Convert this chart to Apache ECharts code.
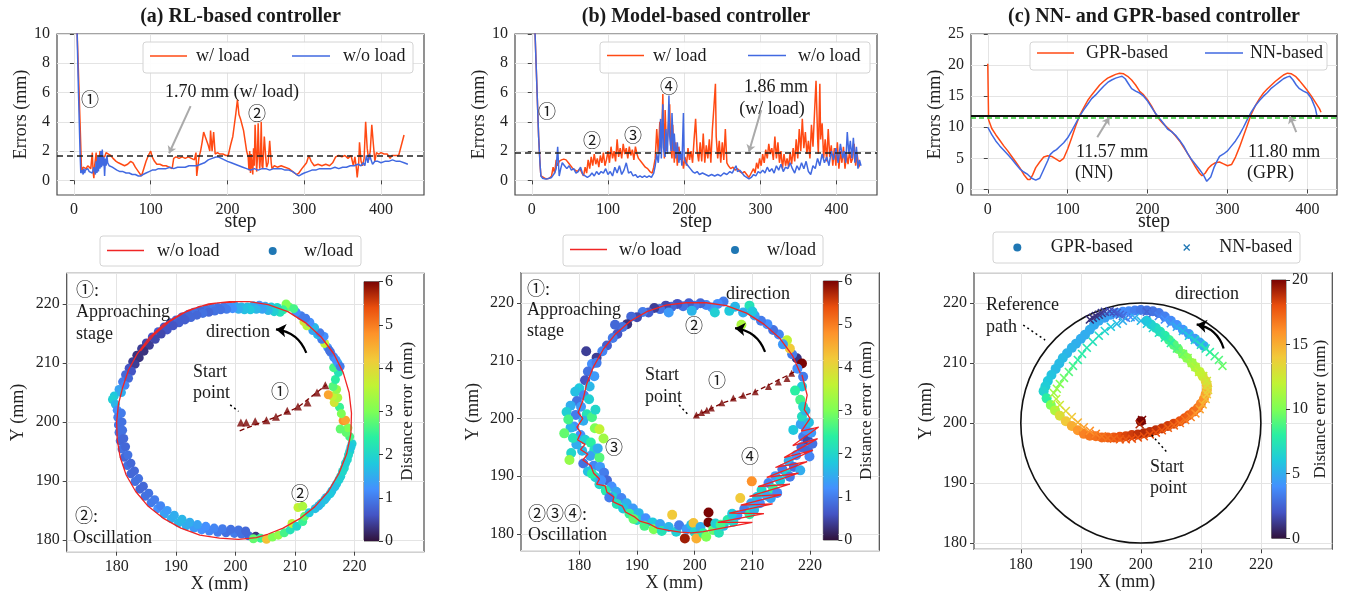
<!DOCTYPE html>
<html><head><meta charset="utf-8">
<script src="https://cdn.jsdelivr.net/npm/echarts@6/dist/echarts.min.js"></script>
<style>html,body{margin:0;padding:0;background:#fff}#c{width:1347px;height:591px}</style>
</head><body><div id="c"></div>
<script>
// ---------------- DATA ----------------
const STEP_TICKS = [0, 100, 200, 300, 400];
const ERR_TICKS_AB = [0, 2, 4, 6, 8, 10];
const ERR_TICKS_C = [0, 5, 10, 15, 20, 25];
const XY_TICKS = [180, 190, 200, 210, 220];
const CBAR_AB = 6, CBAR_C = 20;
const MEAN_A = 1.70, MEAN_B = 1.86, MEAN_C_GPR = 11.80, MEAN_C_NN = 11.57;

// (a) RL-based, errors vs step
const rlWithLoad = [[4,10.5],[8,4],[10,0.6],[12,0.9],[14,1.0],[16,0.8],[18,1.0],[20,0.9],[22,0.8],[24,1.9],[25,0.6],[26,0.15],[27,1.0],[29,1.9],[30,0.6],[32,1.0],[34,2.0],[36,1.7],[38,1.8],[40,1.6],[42,1.9],[45,1.8],[48,1.7],[51,1.5],[55,1.3],[58,1.2],[62,1.1],[66,1.0],[70,1.1],[74,1.3],[77,1.2],[80,0.9],[84,0.6],[88,0.3],[91,0.8],[94,1.3],[97,1.7],[100,2.0],[102,1.6],[105,1.3],[108,1.1],[112,1.1],[116,1.0],[120,1.0],[124,0.9],[128,0.8],[130,1.5],[133,1.6],[137,1.5],[141,1.6],[145,1.5],[149,1.6],[153,1.5],[157,1.4],[159,1.9],[160,0.3],[162,0.25],[163,1.6],[165,2.0],[167,2.6],[169,3.3],[171,3.0],[173,3.1],[175,2.4],[177,2.0],[178,3.4],[180,2.0],[182,3.3],[184,1.8],[187,1.9],[190,1.8],[194,1.8],[198,1.7],[201,1.7],[204,2.4],[207,3.0],[209,3.8],[211,4.6],[213,5.5],[215,4.5],[217,4.2],[219,3.8],[221,3.4],[223,2.7],[225,2.0],[227,1.6],[228,0.7],[229,2.0],[230,0.5],[231,1.8],[232,1.0],[233,0.4],[234,2.2],[235,1.0],[236,3.8],[237,2.4],[238,0.6],[239,1.5],[240,3.9],[241,2.0],[242,0.8],[243,1.5],[244,4.0],[245,1.0],[246,0.8],[248,3.0],[250,1.5],[251,0.9],[253,1.2],[255,2.7],[257,1.2],[258,0.8],[261,1.0],[265,0.9],[270,1.0],[275,0.9],[280,0.8],[285,0.6],[290,0.4],[293,0.5],[297,0.8],[300,1.0],[303,1.2],[306,1.7],[309,1.3],[313,1.0],[318,1.1],[323,1.0],[328,1.1],[333,1.0],[337,1.2],[341,1.6],[345,1.7],[349,1.6],[353,1.7],[357,1.5],[361,1.7],[364,1.0],[366,1.6],[368,0.8],[369,0.2],[371,1.2],[372,2.6],[374,1.3],[376,1.0],[378,1.5],[380,4.0],[382,2.2],[384,1.4],[386,2.0],[388,3.8],[390,2.5],[392,1.3],[394,1.9],[397,1.8],[400,1.9],[404,1.8],[408,1.8],[412,1.5],[414,1.7],[416,1.6],[418,1.7],[420,1.8],[423,1.7],[426,2.3],[430,3.1]];
const rlWithoutLoad = [[4,10.5],[6,6],[8,2],[9,0.5],[10,0.4],[11,0.7],[12,0.4],[13,0.8],[14,0.5],[15,0.7],[16,0.6],[18,0.8],[20,0.6],[22,0.7],[24,0.5],[26,0.9],[28,0.4],[29,1.3],[30,0.5],[31,1.6],[32,0.6],[33,1.7],[34,0.8],[35,2.0],[36,0.9],[37,2.1],[38,1.0],[39,1.6],[40,0.3],[41,1.5],[42,1.0],[43,1.7],[44,1.2],[46,1.0],[48,1.0],[50,0.9],[53,0.8],[56,0.7],[60,0.6],[64,0.6],[68,0.5],[72,0.5],[76,0.4],[80,0.4],[84,0.3],[87,0.3],[90,0.4],[94,0.5],[98,0.6],[102,0.7],[106,0.7],[110,0.8],[115,0.8],[120,0.8],[125,0.9],[130,0.8],[135,0.9],[140,0.9],[145,0.9],[150,1.0],[155,1.0],[160,1.0],[165,1.1],[170,1.2],[175,1.4],[180,1.5],[185,1.6],[188,1.6],[192,1.5],[196,1.4],[200,1.3],[205,1.2],[210,1.1],[215,1.0],[220,0.9],[225,0.8],[230,0.7],[235,0.8],[240,0.7],[245,0.8],[250,0.8],[255,0.7],[260,0.8],[265,0.8],[270,0.8],[275,0.7],[280,0.7],[285,0.6],[290,0.4],[293,0.3],[296,0.4],[300,0.5],[305,0.6],[310,0.7],[315,0.7],[320,0.8],[325,0.8],[330,0.8],[335,0.8],[340,0.9],[345,0.8],[350,0.9],[355,0.9],[360,1.0],[365,1.0],[370,1.1],[374,1.0],[377,1.2],[379,1.0],[381,1.7],[383,1.2],[385,1.8],[387,1.4],[389,1.1],[392,1.3],[396,1.3],[400,1.2],[405,1.3],[410,1.3],[415,1.4],[420,1.3],[425,1.3],[430,1.2],[435,1.1]];

// (b) Model-based, errors vs step
const mbWithLoad = [[4,10.5],[7,6],[9,3],[11,1],[12,0.3],[14,0.2],[17,0.15],[20,0.1],[23,0.15],[26,0.3],[28,0.9],[30,0.5],[32,1.4],[34,1.0],[36,1.3],[39,1.4],[42,1.45],[45,1.4],[48,1.2],[51,1.0],[54,0.8],[57,0.7],[60,0.6],[63,0.8],[66,0.5],[68,0.3],[70,0.9],[72,0.5],[74,1.4],[76,0.8],[78,1.6],[80,1.0],[82,1.8],[84,1.1],[86,1.5],[88,0.9],[90,1.7],[92,1.2],[94,1.9],[96,1.0],[98,1.4],[100,2.0],[102,1.2],[104,2.3],[106,1.5],[108,2.0],[110,1.3],[112,2.8],[114,1.6],[116,2.2],[118,1.5],[120,2.5],[122,1.8],[124,2.2],[126,1.5],[128,2.3],[130,1.7],[132,2.1],[134,1.4],[136,2.3],[138,1.8],[140,1.5],[143,1.3],[146,1.1],[149,0.9],[152,0.8],[155,0.6],[158,0.5],[160,0.9],[162,1.5],[164,3.5],[166,1.8],[168,4.0],[170,2.0],[172,5.9],[173,3.0],[174,1.5],[175,4.8],[177,2.0],[179,3.5],[181,5.2],[182,2.5],[184,1.5],[185,3.8],[187,1.2],[189,2.6],[191,1.0],[193,2.3],[195,1.4],[197,1.8],[199,0.8],[201,1.6],[203,1.0],[205,2.2],[207,1.4],[209,2.0],[211,1.2],[213,2.8],[215,4.2],[217,2.0],[219,1.3],[221,2.6],[223,1.3],[225,3.2],[227,1.2],[229,2.4],[231,1.5],[233,2.8],[235,1.2],[237,3.5],[239,5.0],[241,6.6],[242,3.0],[244,1.5],[246,2.7],[248,1.2],[250,2.6],[252,1.4],[254,3.5],[256,1.2],[258,1.0],[261,0.8],[264,0.9],[267,0.7],[270,0.8],[273,0.6],[276,0.5],[279,0.6],[282,0.4],[285,0.2],[287,0.4],[289,0.3],[291,0.8],[293,0.5],[295,1.2],[297,0.8],[299,1.5],[301,1.0],[303,1.8],[305,1.2],[307,2.1],[309,1.5],[311,2.5],[313,1.8],[315,2.2],[317,1.4],[319,3.0],[321,1.5],[323,2.6],[325,1.2],[327,2.0],[329,0.8],[331,1.8],[333,1.0],[335,1.5],[337,0.9],[339,1.9],[341,1.1],[343,2.2],[345,1.3],[347,2.8],[349,1.5],[351,3.5],[353,2.0],[355,4.2],[357,2.2],[359,3.3],[361,1.8],[363,2.7],[365,1.5],[367,3.8],[369,2.3],[371,4.6],[373,6.8],[375,3.0],[376,1.8],[378,6.6],[379,2.8],[381,3.9],[383,1.5],[385,2.8],[387,1.3],[389,3.5],[391,1.6],[393,2.4],[395,1.0],[397,2.2],[399,1.0],[401,2.6],[403,0.8],[405,2.0],[407,1.2],[409,2.3],[411,0.8],[413,1.8],[415,1.1],[417,2.0],[419,1.2],[421,1.5],[423,2.5],[425,1.0],[427,1.8],[429,0.9],[431,1.2]];
const mbWithoutLoad = [[4,10.5],[7,6],[9,3],[11,1],[12,0.3],[14,0.15],[17,0.1],[20,0.1],[23,0.15],[26,0.2],[28,0.3],[30,0.5],[32,0.8],[34,2.3],[35,1.2],[36,0.3],[38,0.8],[40,1.2],[43,1.0],[46,0.8],[49,1.0],[52,0.7],[55,0.8],[58,0.5],[61,0.6],[64,0.9],[67,0.4],[70,0.3],[73,0.2],[76,0.3],[79,0.5],[82,0.3],[85,0.6],[88,0.4],[91,0.6],[94,0.5],[97,0.8],[100,0.4],[103,0.6],[106,0.3],[109,0.9],[112,0.5],[115,1.0],[118,0.4],[121,0.7],[124,1.2],[127,0.5],[130,0.6],[133,0.3],[136,0.4],[139,0.2],[142,0.3],[145,0.2],[148,0.3],[151,0.2],[154,0.3],[157,0.2],[160,0.5],[162,1.0],[164,1.8],[166,1.2],[168,2.5],[169,4.2],[170,1.5],[172,5.2],[173,2.2],[175,1.6],[176,3.5],[178,1.8],[180,5.8],[181,3.0],[183,2.0],[184,4.6],[186,2.0],[187,3.2],[189,1.5],[191,2.6],[193,1.2],[195,2.0],[197,1.0],[199,4.6],[200,1.5],[202,1.2],[205,1.0],[208,0.8],[211,0.6],[214,0.5],[217,0.6],[220,0.4],[224,0.5],[228,0.4],[232,0.3],[236,0.4],[240,0.3],[244,0.4],[248,0.3],[252,0.5],[256,0.4],[260,0.6],[263,0.5],[266,0.8],[268,1.0],[270,0.6],[273,0.7],[276,0.5],[279,0.3],[282,0.2],[285,0.1],[288,0.2],[291,0.4],[294,0.3],[297,0.6],[300,0.5],[303,0.7],[306,0.5],[309,0.9],[312,0.6],[315,0.8],[318,0.5],[321,1.0],[324,0.7],[327,1.1],[330,0.6],[333,0.9],[336,0.8],[339,1.2],[342,0.8],[345,0.5],[348,1.0],[351,0.7],[354,1.2],[357,0.8],[360,1.3],[363,0.6],[366,0.4],[369,1.0],[372,0.8],[375,1.5],[378,1.0],[381,1.8],[384,1.2],[387,1.6],[390,1.0],[393,2.0],[396,1.4],[399,2.2],[402,1.2],[405,2.5],[408,1.5],[410,2.0],[412,1.2],[414,3.3],[416,1.8],[418,2.7],[420,1.5],[422,2.9],[424,1.2],[426,2.3],[428,0.8],[430,1.4],[432,1.0]];

// (c) NN / GPR, errors vs step
const gprErr = [[0,20.2],[1,11.2],[5,9.8],[10,8.8],[15,7.9],[20,7.0],[25,6.2],[30,5.3],[35,4.4],[40,3.5],[45,2.4],[50,1.6],[53,1.6],[56,2.3],[60,3.5],[65,4.4],[70,5.2],[75,5.4],[80,5.3],[85,4.9],[90,4.5],[95,5.0],[100,6.5],[105,8.3],[110,10.2],[115,11.9],[120,13.1],[125,14.3],[130,15.2],[135,16.0],[140,16.8],[145,17.4],[150,17.9],[155,18.2],[160,18.5],[165,18.7],[170,18.6],[175,18.2],[180,17.6],[185,16.8],[190,15.8],[195,15.2],[200,14.4],[205,13.4],[210,12.2],[215,11.2],[220,10.5],[225,9.9],[230,9.3],[235,8.6],[240,7.8],[245,6.8],[250,5.8],[255,4.7],[260,3.6],[265,2.6],[268,2.2],[272,2.6],[276,3.4],[280,3.9],[285,4.3],[290,4.4],[295,4.1],[300,3.8],[305,4.0],[310,5.2],[315,6.8],[320,8.6],[325,10.4],[330,12.2],[335,13.5],[340,14.6],[345,15.5],[350,16.2],[355,16.8],[360,17.4],[365,17.9],[370,18.4],[375,18.7],[380,18.6],[385,18.2],[390,17.5],[395,16.7],[400,15.9],[405,15.0],[410,14.0],[415,13.0],[417,12.4]];
const nnErr = [[0,10.0],[5,8.8],[10,7.8],[15,7.0],[20,6.3],[25,5.6],[30,4.9],[35,4.1],[40,3.3],[45,2.8],[50,2.4],[55,1.8],[60,1.5],[62,1.3],[65,1.8],[70,3.2],[75,4.6],[78,5.6],[82,6.1],[86,6.4],[90,6.9],[95,7.5],[100,8.3],[105,9.4],[110,10.6],[115,11.8],[120,12.8],[125,13.7],[130,14.6],[135,15.2],[140,15.9],[145,16.6],[150,17.2],[155,17.6],[160,17.9],[165,18.1],[168,18.2],[172,17.8],[176,17.0],[180,16.2],[185,15.8],[190,15.5],[195,15.0],[200,14.2],[205,13.2],[210,12.2],[215,11.4],[220,10.6],[225,9.7],[230,9.3],[235,8.7],[240,7.9],[245,7.0],[250,5.8],[255,4.8],[260,4.0],[265,3.2],[270,2.3],[274,1.3],[276,1.0],[279,2.0],[283,3.5],[287,4.6],[290,5.3],[295,5.7],[300,6.2],[305,7.0],[310,7.8],[315,8.8],[320,10.0],[325,11.3],[330,12.5],[335,13.5],[340,14.3],[345,15.0],[350,15.6],[355,16.3],[360,16.8],[365,17.3],[370,17.8],[375,18.1],[378,18.2],[382,17.6],[386,16.8],[390,16.2],[395,15.8],[400,15.5],[405,14.6],[410,13.0],[412,11.8]];

// (a) trajectory: [x, y] path w/o load, [x, y, error] points w/ load
const rlPathNoLoad = [[200,220.3],[197,220.2],[194,219.6],[191,218.4],[188,216.6],[185.5,214.3],[183.5,211.6],[182,208.8],[181,205.8],[180.3,203],[180,200],[180.1,197],[180.6,194],[181.6,191],[183.2,188.2],[185.2,185.8],[187.8,183.7],[190.8,182],[194,180.8],[197.3,180.3],[200.5,180.1],[203.5,180.4],[205.5,181],[208,182],[210.8,183.6],[213.3,185.6],[215.6,188.2],[217.4,191.3],[218.7,194.6],[219.4,198],[219.5,201.5],[219.1,205],[218.1,208.4],[216.5,211.6],[214.4,214.4],[211.8,216.8],[208.8,218.7],[205.5,219.9],[202.3,220.4],[199,220.4],[195.5,220],[192,218.9],[189,217.1],[186.3,214.8],[184,212]];
const rlPointsLoad = [[209,219.5,2.8],[208.5,220,3.0],[208,219,2.5],[207,219.4,2.0],[206,219.5,1.8],[205,219.6,1.5],[204,219.8,1.2],[203,219.7,1.5],[202,219.5,1.7],[201,219.5,1.6],[200,219.6,1.4],[199,219.6,1.2],[198,219.5,1.0],[197,219.4,0.9],[196,219.3,1.0],[195,219.1,0.9],[194,218.9,0.8],[193,218.6,0.9],[192,218.2,0.8],[191,217.8,0.7],[190,217.3,0.8],[189,216.8,0.7],[188,216.1,0.6],[187,215.3,0.7],[186,214.4,0.6],[185,213.4,0.5],[184.2,212.4,0.4],[183.4,211.3,0.3],[182.7,210.2,0.4],[182.1,209.1,0.6],[181.5,208,0.8],[181,206.8,1.0],[180.4,205.5,1.4],[179.6,204.4,1.8],[179.3,203.8,1.9],[179.8,203,1.6],[180.1,202,1.2],[180.2,200.8,1.0],[180.3,199.5,0.9],[180.4,198.2,0.9],[180.6,196.8,0.8],[180.9,195.4,0.9],[181.3,194,0.8],[181.8,192.6,0.9],[182.4,191.2,0.8],[183.1,189.9,0.9],[183.9,188.6,0.8],[184.8,187.4,0.9],[185.8,186.3,1.0],[186.9,185.3,1.2],[188,184.4,1.4],[189.2,183.6,1.5],[190.4,182.9,1.6],[191.7,182.4,1.5],[193,182,1.3],[194.3,181.7,1.2],[195.6,181.5,1.1],[197,181.3,1.0],[198.4,181.2,0.9],[199.8,181.1,1.0],[201,181,0.9],[202.2,180.7,0.8],[203.4,180.6,0.3],[204.2,180.3,2.5],[203,180.2,2.8],[205.2,180.1,4.3],[206.2,180.5,3.0],[207.2,180.8,3.2],[208.2,181.2,2.6],[209.2,181.7,2.2],[209.5,182.8,3.6],[210.3,182.3,2.0],[211.3,183.1,2.5],[211.6,184,2.8],[210.5,185.5,3.6],[211.3,185.7,3.4],[212.4,184.6,1.8],[213.4,185.3,1.7],[214.4,186.2,1.8],[215.3,187.2,1.6],[216.2,188.3,1.7],[217,189.5,1.8],[217.7,190.8,1.9],[218.3,192.2,2.0],[218.8,193.6,2.0],[219.2,195,1.9],[219.6,196.3,1.9],[219.2,197.5,2.6],[218.6,198.2,2.8],[218.9,199,3.0],[218.1,200.2,4.8],[218.5,200.3,4.6],[217.5,202.5,2.5],[216.6,203.3,3.8],[217.2,204.1,3.4],[216.3,204.4,3.6],[215.6,204.6,4.6],[217,205.5,3.2],[216.4,206,2.7],[216.8,207.2,2.4],[217.3,208.4,2.2],[216.5,209.2,2.6],[217.2,210,1.5],[216.5,211,1.1],[216,211.8,1.0],[215.5,212.6,1.2],[215,213.3,3.6],[214.5,214,1.0],[213.8,214.8,1.6],[213,215.5,1.4],[212,216.3,3.5],[211.5,217,3.8],[211,218,1.0],[210.2,218.6,1.2],
  [207.5,218.6,2.2],[206.5,218.7,1.9],[205.5,218.9,1.6],[204.5,219.1,1.4],[203.5,219.1,1.6],[202.5,219,1.8],[201.5,219,1.7],[200.5,219.1,1.5],[199.5,219.2,1.2],[198.5,219.1,1.0],[197.5,219,0.9],[196.5,218.8,0.9],[195.5,218.6,0.8],[194.5,218.4,0.9],[193.5,218.1,0.8],[192.5,217.7,0.8],[191.5,217.3,0.7],[190.5,216.8,0.7],[189.5,216.3,0.6],[188.5,215.6,0.6],[187.5,214.9,0.5],[186.5,214,0.5],[185.5,213,0.4],[184.6,212,0.3],[183.8,210.9,0.3],[183.1,209.8,0.4],[182.5,208.6,0.6],[182,207.4,0.8],[181.4,206.2,1.1],[180.8,205,1.5],[180.8,201.5,1.0],[180.9,200,0.9],[181,198.6,0.9],[181.2,197.2,0.8],[181.5,195.8,0.8],[181.9,194.4,0.9],[182.4,193,0.8],[183,191.7,0.8],[183.7,190.4,0.9],[184.5,189.1,0.8],[185.4,187.9,0.9],[186.4,186.8,1.0],[187.4,185.8,1.1],[188.5,185,1.3],[189.7,184.2,1.5],[191,183.5,1.6],[192.3,183,1.5],[193.6,182.6,1.4],[195,182.3,1.2],[196.4,182,1.1],[197.8,181.9,1.0],[199.2,181.8,0.9],[200.5,181.7,0.9],[201.7,181.5,0.8],[214,185.8,1.6],[215,186.8,1.7],[215.9,187.8,1.8],[216.7,189,1.7],[217.4,190.2,1.9],[218,191.6,2.0],[218.5,193,1.9],[219,194.4,2.0],[219.4,195.7,1.8],[217.6,198.8,2.8],[217.8,201.4,3.0],[217.6,209.4,1.0],[216.9,210.5,1.2],[215.8,212.1,0.9],[214.9,214.5,1.2],[214.2,215.1,1.0],[213.3,216,1.6],[212.5,216.9,1.2],[211.8,217.6,1.0],[209.8,219.2,2.6]];
const rlApproach = [[200.9,199.9],[201.8,199.9],[203.3,200.1],[205.2,200.3],[206.8,200.9],[208.7,201.9],[210.5,202.6],[212.1,203.3],[213.7,205],[215.1,206.2]];
const rlApproachLine = [[200.7,198.5],[203.5,199.6],[207,200.9],[210.5,202.5],[215.3,206.3]];

// (b) trajectory
const mbPathNoLoad = [[218.3,207.8],[217,210.8],[214.8,213.8],[212,216.3],[209,218.2],[205.5,219.5],[202,220],[198.5,220],[195,219.6],[191.8,218.5],[188.8,216.8],[186.3,214.6],[184.2,212],[182.5,209],[181.3,206],[180.6,203],[179.8,201],[180.6,200],[179.6,198.5],[180.3,197.5],[179.7,196.3],[181,195.5],[180.2,194.6],[181.5,193.8],[180.6,192.8],[182,191.8],[182.5,190.5],[183.5,189.5],[183,188.6],[184.5,188.3],[184.8,187.2],[186,186.4],[185.8,185.6],[187.5,184.8],[188,183.8],[189.5,183],[190.5,182.2],[192,181.8],[193.5,181],[195.5,180.6],[197.5,180.3],[199.5,180.2],[201.5,180.4],[210,182],[204,182],[212,183.5],[206,183.6],[213.5,185.2],[208,185],[215,186.8],[209.5,186.5],[216.5,188.6],[211,188.2],[218,190.5],[212.5,189.8],[219.5,192.5],[214,191.5],[220.5,194.5],[215.5,193.2],[221.3,196.5],[217,195.3],[221.5,198.5],[218.5,197.8],[220,200],[219,201.5],[219.5,204],[218.6,207.5]];
const mbPointsLoad = [[207,219.3,1.6],[206,218.6,1.8],[205,220.2,1.0],[204,219.8,1.2],[203,219.2,1.3],[202,219.6,1.1],[201,219.9,0.8],[200,219.5,1.0],[199,219.9,0.7],[198,219.4,0.9],[197,219.8,0.6],[196,219.3,0.8],[195,219.5,0.5],[194,218.9,0.9],[193,219.1,0.4],[192,218.3,0.7],[191,218.4,1.0],[190,217.5,0.5],[189,217.6,0.8],[188.3,216.3,0.3],[187.5,215.8,0.9],[186.6,214.6,0.6],[185.8,213.9,1.0],[184.8,212.6,0.7],[184,211.6,1.1],[183,210.5,0.4],[182.2,209.4,1.2],[183,209.6,1.0],[181.5,208.1,0.9],[182.6,207.3,1.3],[181,206.6,0.6],[181.8,205.5,1.6],[180,205.2,1.8],[179.3,204.6,1.7],[180.8,204,1.1],[181.7,203.3,1.9],[179.6,203,0.9],[178.5,202.2,1.5],[180.3,202,1.3],[177.8,201.1,1.9],[179.4,200.6,1.0],[181.3,200.7,2.2],[180.7,199.6,1.5],[182.2,200.2,2.6],[179.1,198.6,1.2],[182.7,198.3,3.0],[183.5,198.1,3.6],[178.5,198.4,1.6],[177.4,197.4,2.8],[180.2,197.1,1.2],[181,196.3,1.9],[182,195.8,2.4],[179.5,195.5,1.5],[180.5,194.4,1.6],[182.6,194.5,2.1],[178.6,194,2.0],[181.9,193.5,1.4],[183.5,193.2,2.7],[178.3,192.8,3.2],[180.7,192.2,0.9],[182.5,191.8,1.1],[183.6,191.6,1.3],[181.5,190.8,1.7],[184.3,190.6,1.0],[182.8,189.8,1.9],[184.8,189.3,0.8],[183.5,188.6,2.0],[185.6,188.2,1.2],[184.6,187.5,2.3],[186.4,187.3,1.4],[185.8,186.4,1.9],[187.3,186.2,1.1],[186.5,185.2,2.2],[188.2,185.3,1.5],[187.6,184.4,1.8],[189.3,184.4,1.3],[188.7,183.5,2.5],[190.3,183.6,1.6],[190,182.4,2.0],[191.5,182.7,1.2],[191.3,181.4,2.6],[192.7,182,1.8],[192.9,180.8,3.0],[194,181.7,1.4],[194.3,180.5,2.2],[195.5,181.2,1.6],[196.1,183.3,4.2],[196.8,180.4,1.9],[197.3,181.5,1.0],[198.3,179.2,5.8],[198.6,180.8,1.3],[199.4,181.6,1.7],[199.8,181.9,4.3],[200,180.3,2.0],[200.3,179.2,4.5],[201,181.2,1.5],[201.5,180.1,2.4],[202,179.5,3.0],[202.4,182,6.0],[202.4,183.7,6.0],[203.2,180.7,2.8],[203.6,181.8,1.9],[204.2,180.2,2.2],[205,181.4,1.6],[205.7,182.4,2.3],[206.7,182.1,2.0],[207.4,183.2,1.2],[207.9,186.2,4.2],[208.6,184.3,1.0],[209.5,183.4,2.4],[209.9,189.1,4.8],[209.8,185.3,1.4],[210.8,186.4,1.7],[211.3,185.3,1.2],[211.6,187.6,2.0],[212.5,186.6,1.5],[212.8,188.8,1.1],[213.6,187.8,2.5],[214,190,1.3],[214.8,189.2,1.8],[215.2,191.2,1.0],[216,190.4,1.9],[216.5,189.9,1.0],[216.3,192.6,1.5],[217.2,191.6,0.9],[217.6,193.6,1.2],[218.3,191,1.5],[218.5,195,0.8],[219.6,194.5,0.8],[218.8,196.8,1.0],[219.6,196.2,0.5],[217.1,198,1.8],[218.4,199,1.4],[219.3,198,1.2],[218.6,200.3,2.1],[219.2,201.3,1.6],[218.3,203.2,2.6],[218.8,202,2.0],[218.6,205.5,1.8],[217.4,204.8,2.4],[218.8,207.2,1.0],[217.7,210.4,0.3],[218.6,209.5,6.0],[217.8,208.6,1.2],[216.9,211.1,1.0],[216.5,212.1,4.2],[216,213.5,3.6],[215.3,212.8,1.3],[214.6,214.5,1.1],[213.6,215.3,0.9],[212.6,216.3,1.2],[211.5,216.9,1.0],[210.4,217.8,1.4],[209.5,219.5,2.2],[208.4,218.3,1.5],[208.1,216.2,3.4],[210,218.5,1.8],
  [219.9,193.4,1.1],[220.4,195.6,0.9],[220.2,197.5,1.3],[219.8,199.3,1.7],[213.2,186.2,1.4],[214.3,187.1,1.1],[210.3,184.2,1.6],[206.5,183.5,1.8],[204.5,181.6,2.6],[189.4,182.6,2.8],[185.2,186.3,1.0],[183.8,189.3,1.2],[182.2,190.4,2.4],[183.2,194.8,1.5],[184.2,196.5,3.3],[178.9,196.6,2.2],[178.1,199.8,2.6],[182.8,201.5,2.0],[181.2,211.6,0.4],[186.2,216.2,0.8],[195.5,218.3,1.3],[199.5,218.6,1.6],[203.5,218.3,1.9]];
const mbApproach = [[200.3,200.6],[201.2,201],[202.1,201.4],[202.9,201.8],[204.7,202.7],[206.7,203.5],[208.4,204],[210.5,204.6],[212.8,205.5],[214.5,206.3],[216,206.9],[216.8,207.8]];
const mbApproachLine = [[200,200.3],[204.7,202.6],[210.5,204.6],[217.6,208.2]];

// (c) trajectories [x, y, error]
const refCircle = [[200, 200, 20]];
const gprPoints = [[200,200.3,20],[197,218.5,4],[198,218.6,3.8],[199,218.7,3.5],[200,218.8,3.2],[201,218.7,3],[202,218.6,3.1],[203,218.3,3.2],[204,217.7,3.5],[205,217,3.8],[206,216.3,4],[207,215.5,4.2],[208,214.8,4.3],[209,214,4.5],[209.8,213.4,4.8],[210.5,212.8,5],[196,218.3,4.2],[195,218,4.5],[194,217.5,4.6],[193,217,4.8],[192.2,216.3,4.9],[191.5,215.5,5],[190.7,214.7,5],[190,214,5],[189.2,213.2,5.1],[188.5,212.5,5.2],[187.7,211.6,5.3],[187,210.8,5.5],[186.4,209.9,5.5],[185.8,209,5.5],[185.1,208,5.8],[184.5,207,6],[184.1,206.1,6.2],[183.8,205.3,6.5],[184.3,204.1,8],[185,203,10],[185.7,202.1,11.5],[186.5,201.2,13],[187.5,200.3,14],[188.5,199.5,15],[189.5,198.8,15.8],[190.5,198.2,16.5],[191.5,197.9,16.8],[192.5,197.8,17],[193.5,197.6,17.3],[194.5,197.6,17.5],[195.5,197.6,17.8],[196.5,197.7,18],[197.5,197.8,18.3],[198.5,198,18.5],[199.5,198.1,18.8],[200.5,198.3,19],[201.5,198.5,18.9],[202.5,198.8,18.8],[203.5,199.1,18.6],[204.5,199.5,18.5],[205.5,199.9,18.3],[206.5,200.3,18],[207.3,200.8,17.8],[208,201.3,17.5],[208.8,201.9,17.2],[209.5,202.5,17],[210,203.2,16.5],[210.5,204,16],[210.8,204.8,15.5],[211,205.5,15],[211,206.3,14.3],[210.8,207,13.5],[210.3,207.8,12.8],[209.8,208.5,12],[209.1,209.3,11.5],[208.5,210,11],[207.7,210.8,10.5],[207,211.5,10],[206.2,212.3,9.5],[205.5,213,9],[204.7,213.8,8.5],[204,214.5,8],[203.2,215.2,7.5],[202.5,215.8,7],[201.7,216.4,6.5],[201,217,6]];
const nnPoints = [[200.2,200.5,20],[199.8,199.8,19],[191.5,217.2,0.8],[192,217.5,1],[192.5,217.8,1],[193,218,1],[193.5,218.3,1.2],[194,218.5,1.5],[194.8,218.6,1.8],[195.5,218.5,2],[196,218.3,2.2],[196.5,218,2.5],[197,217.8,2.8],[197.5,217.5,3],[198.3,217.6,4],[199,217.5,5],[200,217,5.5],[201,216.5,6],[202,215.8,6.5],[203,215,7],[204,214.2,7.5],[205,213.3,8],[206,212.4,8.8],[207,211.5,9.5],[207.8,210.8,10.2],[208.5,210,11],[209.1,209.3,11.5],[209.7,208.5,12],[201,218.5,2.5],[202,218.3,3],[203,217.8,3.5],[204,217.2,4],[205,216.6,4.5],[206,216,5],[207,215.3,5.5],[208,214.5,6],[209,213.8,6.5],[210,213,7],[210.8,212.4,7.5],[211.5,211.8,8],[212.3,211.1,8.5],[213,210.5,9],[213.6,209.5,9.5],[197,217,5],[196,216.5,5.5],[195,216,6],[194,215.3,6.5],[193,214.5,7],[192,213.5,7.2],[191,212.5,7.5],[190.2,211.5,7.8],[189.5,210.5,8],[188.7,209.5,8.5],[188,208.5,9],[187.2,207.5,9.5],[186.5,206.5,10],[186,205.7,10.5],[185.5,205,11],[185.9,204,11.8],[186.5,203,12.5],[187.5,202,13.2],[188.5,201,14],[189.5,200.1,14.8],[190.5,199.3,15.5],[191.5,198.7,16],[192.5,198.2,16.5],[193.5,197.8,16.8],[194.5,197.5,17],[195.5,197.4,17.3],[196.5,197.3,17.5],[197.5,197.3,17.8],[198.5,197.4,18],[199.5,197.6,18],[200.5,197.8,18],[201.5,198.1,18],[202.5,198.4,18],[203.5,198.8,17.8],[204.5,199.2,17.5],[205.5,199.6,17.3],[206.5,200,17],[207.4,200.5,16.8],[208.3,201,16.5],[209.1,201.6,16],[209.8,202.3,15.5],[210.3,203.1,15],[210.8,204,14.5],[211,204.8,14],[211.2,205.5,13.5],[211.1,206.3,13],[211,207,12.5],[210.4,207.8,12.2]];

// ---------------- STYLE ----------------
const FONT = '"Liberation Serif", "DejaVu Serif", "Noto Sans CJK JP", serif';
const ORANGE = '#ff4a14', BLUE = '#4169e1', RED = '#f02525', MPLBLUE = '#1f77b4', DARKRED = '#7a0403';
const TURBO = ['#30123b','#4454c4','#4490fe','#1fc9dd','#29efa2','#7eff55','#c1f334','#f1ca3a','#fe922a','#ea4f0d','#7a0403'];
const GRIDC = '#e4e4e4', FRAMEC = '#4a4a4a';

const chart = echarts.init(document.getElementById('c'));
const grid = [], xAxis = [], yAxis = [], series = [], visualMap = [], graphic = [];

function addGrid(g) { grid.push(Object.assign({ show: true, borderColor: FRAMEC, borderWidth: 1.2, backgroundColor: 'transparent', containLabel: false, outerBoundsMode: 'none' }, g)); return grid.length - 1; }
const lab = (extra) => Object.assign({ fontFamily: FONT, fontSize: 16, color: '#222' }, extra || {});
function valAxis(gi, min, max, ticks, name, nameGap, isY, extra) {
  const a = {
    gridIndex: gi, type: 'value', min, max, splitNumber: 5,
    axisLine: { show: false },
    axisTick: { show: true, length: 4, lineStyle: { color: '#444' }, customValues: ticks },
    axisLabel: lab({ showMinLabel: true, showMaxLabel: true, customValues: ticks, margin: 7 }),
    splitLine: { show: true, lineStyle: { color: GRIDC, width: 1 } },
    name, nameLocation: 'middle', nameGap,
    nameTextStyle: { fontFamily: FONT, fontSize: isY ? 18 : 20, color: '#222' }
  };
  if (isY) a.nameRotate = 90;
  return Object.assign(a, extra || {});
}

// ---- top panels ----
const topCfg = [
  { left: 57, width: 367, xmin: -22, xmax: 456, ymin: -1, ymax: 10, yt: ERR_TICKS_AB },
  { left: 515, width: 362, xmin: -22, xmax: 453, ymin: -1, ymax: 10, yt: ERR_TICKS_AB },
  { left: 971, width: 366, xmin: -21, xmax: 437, ymin: -0.9, ymax: 25, yt: ERR_TICKS_C }
];
const topIdx = topCfg.map(c => {
  const gi = addGrid({ left: c.left, top: 34, width: c.width, height: 161 });
  xAxis.push(valAxis(gi, c.xmin, c.xmax, STEP_TICKS, 'step', 17, false, { nameMoveOverlap: false }));
  yAxis.push(valAxis(gi, c.ymin, c.ymax, c.yt, 'Errors (mm)', 27, true));
  return gi;
});
function lineS(gi, data, color, extra) {
  return Object.assign({ type: 'line', xAxisIndex: gi, yAxisIndex: gi, data, showSymbol: false, symbol: 'none', lineStyle: { color, width: 1.5 }, itemStyle: { color }, silent: true, clip: true }, extra || {});
}
function meanLine(value, color, type, width) {
  return { silent: true, symbol: ['none', 'none'], label: { show: false }, lineStyle: { color, type, width }, data: [{ yAxis: value }] };
}
function arrowS(gi, coords, color, width, opts) {
  opts = opts || {};
  return { type: 'lines', coordinateSystem: 'cartesian2d', xAxisIndex: gi, yAxisIndex: gi, polyline: false, silent: true, z: 6,
    symbol: opts.noArrow ? ['none', 'none'] : ['none', 'arrow'], symbolSize: opts.head || 10,
    lineStyle: { color, width, type: opts.dotted ? [2, 3] : 'solid', opacity: 1, curveness: opts.curve || 0 },
    data: coords.map(c => ({ coords: c })) };
}
series.push(lineS(topIdx[0], rlWithLoad, ORANGE, { markLine: meanLine(MEAN_A, '#222', [6, 4], 1.6) }));
series.push(lineS(topIdx[0], rlWithoutLoad, BLUE));
series.push(arrowS(topIdx[0], [[[152, 5.07], [124, 1.85]]], '#aaaaaa', 2, { head: 7 }));
series.push(lineS(topIdx[1], mbWithLoad, ORANGE, { markLine: meanLine(MEAN_B, '#222', [6, 4], 1.6) }));
series.push(lineS(topIdx[1], mbWithoutLoad, BLUE));
series.push(arrowS(topIdx[1], [[[301, 4.8], [285, 1.95]]], '#aaaaaa', 2, { head: 7 }));
series.push(lineS(topIdx[2], gprErr, ORANGE, { markLine: meanLine(MEAN_C_GPR, '#111', 'solid', 1.8) }));
series.push(lineS(topIdx[2], nnErr, BLUE, { markLine: meanLine(MEAN_C_NN, '#33cc33', [5, 3], 1.6) }));
series.push(arrowS(topIdx[2], [[[137, 8.4], [152, 11.55]], [[386, 9.2], [378, 11.75]]], '#aaaaaa', 2, { head: 7 }));

// ---- bottom panels ----
const botCfg = [
  { left: 66.7, top: 273.3, fw: 357.3, h: 278.4, xmin: 171.6, xmaxFrame: 231.7, ymin: 178, ymax: 225.2, cb: { left: 364, top: 281.7, w: 15, h: 259.3 }, cmax: CBAR_AB, ct: 1 },
  { left: 521, top: 272.7, fw: 358.3, h: 278, xmin: 169.9, xmaxFrame: 232, ymin: 177.1, ymax: 225.2, cb: { left: 823.3, top: 281, w: 15, h: 259 }, cmax: CBAR_AB, ct: 1 },
  { left: 974, top: 272.7, fw: 358.3, h: 276.6, xmin: 172.2, xmaxFrame: 231.9, ymin: 179, ymax: 225, cb: { left: 1271.7, top: 280, w: 14.3, h: 258.3 }, cmax: CBAR_C, ct: 5 }
];
const XMAX_DATA = 223;
const botIdx = botCfg.map(c => {
  const pxPerUnit = c.fw / (c.xmaxFrame - c.xmin);
  const fg = addGrid({ left: c.left, top: c.top, width: c.fw, height: c.h });
  xAxis.push({ gridIndex: fg, type: 'value', min: 0, max: 1, show: false });
  yAxis.push({ gridIndex: fg, type: 'value', min: c.ymin, max: c.ymax, splitNumber: 5, axisLine: { show: false }, axisTick: { show: false }, axisLabel: { show: false }, splitLine: { show: true, lineStyle: { color: GRIDC } } });
  const dg = addGrid({ left: c.left, top: c.top, width: (XMAX_DATA - c.xmin) * pxPerUnit, height: c.h, show: false });
  xAxis.push(valAxis(dg, c.xmin, XMAX_DATA, XY_TICKS, 'X (mm)', 17, false, { nameTextStyle: { fontFamily: FONT, fontSize: 18, color: '#222' } }));
  const ya = valAxis(dg, c.ymin, c.ymax, XY_TICKS, 'Y (mm)', 39, true);
  ya.splitLine = { show: false };
  yAxis.push(ya);
  const cg = addGrid({ left: c.cb.left, top: c.cb.top, width: c.cb.w, height: c.cb.h, borderColor: '#333', borderWidth: 0.8 });
  xAxis.push({ gridIndex: cg, type: 'category', data: ['cb'], show: false, boundaryGap: true });
  yAxis.push({ gridIndex: cg, type: 'value', min: 0, max: c.cmax, interval: c.ct, position: 'right',
    axisLine: { show: false }, axisTick: { show: true, length: 4, lineStyle: { color: '#333' } },
    axisLabel: lab({ margin: 6 }), splitLine: { show: false },
    name: 'Distance error (mm)', nameLocation: 'middle', nameRotate: 90, nameGap: 20,
    nameTextStyle: { fontFamily: FONT, fontSize: 17, color: '#222' } });
  return { fg, dg, cg, cmax: c.cmax };
});
function cbarS(b) {
  const stops = TURBO.map((col, i) => ({ offset: i / (TURBO.length - 1), color: col }));
  return { type: 'bar', xAxisIndex: b.cg, yAxisIndex: b.cg, data: [b.cmax], barWidth: '100%', silent: true, z: 5,
    itemStyle: { color: new echarts.graphic.LinearGradient(0, 1, 0, 0, stops) } };
}
function scatterS(gi, data, size, symbol, z) {
  return { type: 'scatter', xAxisIndex: gi, yAxisIndex: gi, data, symbolSize: size, symbol: symbol || 'circle', silent: true, z: z || 3, itemStyle: { opacity: 1 } };
}
const CROSS = 'path://M1.2,0 L5,3.8 L8.8,0 L10,1.2 L6.2,5 L10,8.8 L8.8,10 L5,6.2 L1.2,10 L0,8.8 L3.8,5 L0,1.2 Z';

const A = botIdx[0], B = botIdx[1], C = botIdx[2];
// (a)
const sA = series.push(scatterS(A.dg, rlPointsLoad, 9)) - 1;
series.push(lineS(A.dg, rlPathNoLoad, RED, { lineStyle: { color: RED, width: 1.3 }, z: 4 }));
series.push(lineS(A.dg, rlApproachLine, DARKRED, { lineStyle: { color: DARKRED, width: 1.3, type: [5, 3] }, z: 4 }));
series.push(Object.assign(scatterS(A.dg, rlApproach, 8, 'triangle', 5), { itemStyle: { color: DARKRED } }));
series.push(arrowS(A.dg, [[[211.9, 211.7], [206.8, 215.7]]], '#000', 2.2, { curve: -0.3 }));
series.push(arrowS(A.dg, [[[199.1, 202.9], [200.5, 201.8]]], '#000', 1.5, { dotted: true, noArrow: true }));
series.push(cbarS(A));
// (b)
const sB = series.push(scatterS(B.dg, mbPointsLoad, 10)) - 1;
series.push(lineS(B.dg, mbPathNoLoad, RED, { lineStyle: { color: RED, width: 1.3 }, z: 4 }));
series.push(lineS(B.dg, mbApproachLine, DARKRED, { lineStyle: { color: DARKRED, width: 1.3, type: [5, 3] }, z: 4 }));
series.push(Object.assign(scatterS(B.dg, mbApproach, 7, 'triangle', 5), { itemStyle: { color: DARKRED } }));
series.push(arrowS(B.dg, [[[212.2, 211.5], [207, 215.6]]], '#000', 2.2, { curve: -0.3 }));
series.push(arrowS(B.dg, [[[197.3, 202.3], [198.9, 200.6]]], '#000', 1.5, { dotted: true, noArrow: true }));
series.push(cbarS(B));
// (c)
series.push({ type: 'custom', xAxisIndex: C.dg, yAxisIndex: C.dg, data: refCircle, silent: true, z: 2,
  renderItem: (params, api) => {
    const c = api.coord([api.value(0), api.value(1)]);
    const r = api.size([api.value(2), 0])[0];
    return { type: 'circle', shape: { cx: c[0], cy: c[1], r }, style: { fill: 'none', stroke: '#111', lineWidth: 1.6 } };
  } });
const sC1 = series.push(scatterS(C.dg, gprPoints, 10, 'circle', 3)) - 1;
const sC2 = series.push(scatterS(C.dg, nnPoints, 9, CROSS, 4)) - 1;
series.push(arrowS(C.dg, [[[213.8, 212.4], [209.3, 216.4]]], '#000', 2.2, { curve: -0.3 }));
series.push(arrowS(C.dg, [[[180.4, 216.3], [184.05, 213.8]], [[201.8, 198], [204.3, 195.2]]], '#000', 1.5, { dotted: true, noArrow: true }));
series.push(cbarS(C));

visualMap.push({ type: 'continuous', show: false, min: 0, max: CBAR_AB, dimension: 2, seriesIndex: [sA, sB], inRange: { color: TURBO } });
visualMap.push({ type: 'continuous', show: false, min: 0, max: CBAR_C, dimension: 2, seriesIndex: [sC1, sC2], inRange: { color: TURBO } });

// ---------------- TEXT / LEGENDS (graphic) ----------------
function T(x, y, text, size, align, bold) {
  return { type: 'text', x, y, z: 120, silent: true, style: { text, font: (bold ? 'bold ' : '') + size + 'px ' + FONT, fill: '#1a1a1a', align: align || 'left', verticalAlign: 'middle' } };
}
function box(x, y, w, h) { return { type: 'rect', z: 110, silent: true, shape: { x, y, width: w, height: h, r: 3 }, style: { fill: 'rgba(255,255,255,0.9)', stroke: '#d4d4d4', lineWidth: 1 } }; }
function legLine(x1, x2, y, color) { return { type: 'line', z: 115, silent: true, shape: { x1, y1: y, x2, y2: y }, style: { stroke: color, lineWidth: 1.6 } }; }
function legDot(cx, cy, color) { return { type: 'circle', z: 115, silent: true, shape: { cx, cy, r: 4 }, style: { fill: color } }; }
function legCross(cx, cy, color) {
  return [{ type: 'line', z: 115, silent: true, shape: { x1: cx - 3, y1: cy - 3, x2: cx + 3, y2: cy + 3 }, style: { stroke: color, lineWidth: 1.3 } },
          { type: 'line', z: 115, silent: true, shape: { x1: cx - 3, y1: cy + 3, x2: cx + 3, y2: cy - 3 }, style: { stroke: color, lineWidth: 1.3 } }];
}
graphic.push(T(240.5, 17, '(a) RL-based controller', 20, 'center', true));
graphic.push(T(696, 17, '(b) Model-based controller', 20, 'center', true));
graphic.push(T(1154, 17, '(c) NN- and GPR-based controller', 20, 'center', true));
graphic.push(box(143, 42, 270, 31), legLine(150, 187, 56, ORANGE), T(196, 56.5, 'w/ load', 18), legLine(292, 330, 56, BLUE), T(343, 56.5, 'w/o load', 18));
graphic.push(box(600, 42, 270, 31), legLine(607, 644, 55.5, ORANGE), T(653, 56.5, 'w/ load', 18), legLine(748, 786, 55.5, BLUE), T(798, 56.5, 'w/o load', 18));
graphic.push(box(1030, 42, 297, 28), legLine(1037, 1074, 53, ORANGE), T(1086, 53.5, 'GPR-based', 18), legLine(1205, 1243, 53, BLUE), T(1250, 53.5, 'NN-based', 18));
graphic.push(T(232, 92, '1.70 mm (w/ load)', 18, 'center'), T(90, 101, '①', 18, 'center'), T(257, 115, '②', 18, 'center'));
graphic.push(T(776, 87.5, '1.86 mm', 18, 'center'), T(772, 109.5, '(w/ load)', 18, 'center'));
graphic.push(T(547, 113, '①', 18, 'center'), T(592, 142, '②', 18, 'center'), T(633, 137, '③', 18, 'center'), T(669, 88, '④', 18, 'center'));
graphic.push(T(1076, 152, '11.57 mm', 18), T(1075, 173, '(NN)', 18), T(1248, 152, '11.80 mm', 18), T(1247, 173, '(GPR)', 18));
graphic.push(box(100, 236, 261, 30), legLine(107, 144, 250.5, RED), T(157, 251, 'w/o load', 18), legDot(272.7, 251, MPLBLUE), T(304, 251, 'w/load', 18));
graphic.push(box(563, 235, 260, 31), legLine(570, 607, 249.5, RED), T(619, 250, 'w/o load', 18), legDot(735, 250, MPLBLUE), T(767, 250, 'w/load', 18));
graphic.push(box(993, 232, 307, 31), legDot(1017.3, 247.5, MPLBLUE), T(1050.7, 247.5, 'GPR-based', 18), ...legCross(1186.7, 247.5, MPLBLUE), T(1219.3, 247.5, 'NN-based', 18));
graphic.push(T(76, 291, '①:', 18), T(76, 312, 'Approaching', 18), T(76, 334, 'stage', 18), T(206, 332, 'direction', 18),
  T(193, 372, 'Start', 18), T(193, 393, 'point', 18), T(280, 393.5, '①', 18, 'center'), T(300, 495, '②', 18, 'center'),
  T(75, 517, '②:', 18), T(73, 538.5, 'Oscillation', 18));
graphic.push(T(527, 290, '①:', 18), T(527, 310.5, 'Approaching', 18), T(527, 331, 'stage', 18), T(726, 294.5, 'direction', 18),
  T(645, 375, 'Start', 18), T(645, 397, 'point', 18), T(694, 327, '②', 18, 'center'), T(717, 382, '①', 18, 'center'),
  T(614, 449, '③', 18, 'center'), T(750, 458.5, '④', 18, 'center'), T(528, 515, '②③④:', 18), T(528, 535.5, 'Oscillation', 18));
graphic.push(T(986, 305, 'Reference', 18), T(986, 327.5, 'path', 18), T(1175, 294, 'direction', 18), T(1150, 467, 'Start', 18), T(1150, 488.5, 'point', 18));

chart.setOption({ animation: false, backgroundColor: '#fff', grid, xAxis, yAxis, series, visualMap, graphic });
</script></body></html>
